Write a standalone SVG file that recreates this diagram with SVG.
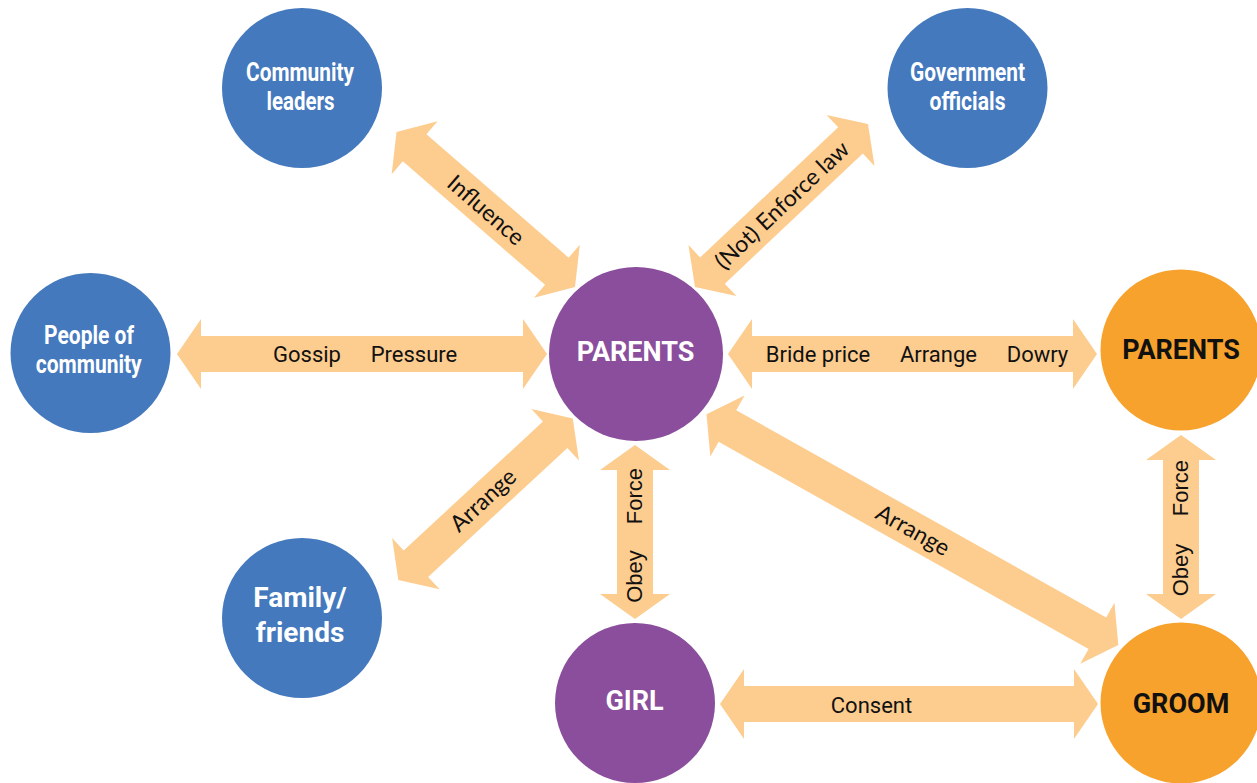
<svg xmlns="http://www.w3.org/2000/svg" width="1257" height="783" viewBox="0 0 1257 783">
<style>
.arr{fill:#FDCC8F}
.blue{fill:#4479BD}
.purple{fill:#8A4E9C}
.orange{fill:#F7A22D}
.nt{font-family:Roboto,"Liberation Sans",sans-serif;font-weight:bold;text-anchor:middle}
.w{fill:#FFFFFF}
.k{fill:#111111}
.lbl{font-family:Roboto,"Liberation Sans",sans-serif;font-size:22px;fill:#111111;text-anchor:middle}
.dg{font-family:Lato,"Open Sans",sans-serif;font-size:23px;fill:#111111;text-anchor:middle}
.vt{font-family:"Liberation Sans",Arial,sans-serif;font-size:22px;fill:#111111;text-anchor:middle}
</style>
<rect width="1257" height="783" fill="#FFFFFF"/>
<g id="connectors">
  <polygon class="arr" transform="translate(177,354)" points="0,0 24,-35 24,-18 346,-18 346,-35 370,0 346,35 346,18 24,18 24,35"/>
  <polygon class="arr" transform="translate(728,354)" points="0,0 24,-35 24,-18 345,-18 345,-35 369,0 345,35 345,18 24,18 24,35"/>
  <polygon class="arr" transform="translate(720,704)" points="0,0 24,-35 24,-18 354,-18 354,-35 378,0 354,35 354,18 24,18 24,35"/>
  <polygon class="arr" transform="translate(635,445) rotate(90)" points="0,0 25,-35 25,-18 149,-18 149,-35 174,0 149,35 149,18 25,18 25,35"/>
  <polygon class="arr" transform="translate(1181,435) rotate(90)" points="0,0 25,-35 25,-18 159,-18 159,-35 184,0 159,35 159,18 25,18 25,35"/>
  <polygon class="arr" transform="translate(396.5,132) rotate(40.97)" points="0,0 24,-35 24,-18 212.4,-18 212.4,-35 236.4,0 212.4,35 212.4,18 24,18 24,35"/>
  <polygon class="arr" transform="translate(695,287) rotate(-43.3)" points="0,0 24,-35 24,-18 213.7,-18 213.7,-35 237.7,0 213.7,35 213.7,18 24,18 24,35"/>
  <polygon class="arr" transform="translate(398.3,580) rotate(-42.8)" points="0,0 24,-35 24,-18 213.8,-18 213.8,-35 237.8,0 213.8,35 213.8,18 24,18 24,35"/>
  <polygon class="arr" transform="translate(706.5,414.3) rotate(29.25)" points="0,0 24,-35 24,-18 448,-18 448,-35 472,0 448,35 448,18 24,18 24,35"/>
  <text class="lbl" x="307" y="362">Gossip</text>
  <text class="lbl" x="414" y="362">Pressure</text>
  <text class="lbl" x="818" y="362">Bride price</text>
  <text class="lbl" x="938.5" y="362">Arrange</text>
  <text class="lbl" x="1037.5" y="362">Dowry</text>
  <text class="lbl" x="871.5" y="712.5">Consent</text>
  <text class="dg" transform="translate(486,210) rotate(40.97)" dy="0.35em">Influence</text>
  <text class="dg" transform="translate(782,205) rotate(-43.3)" dy="0.35em">(Not) Enforce law</text>
  <text class="dg" transform="translate(483,500) rotate(-42.8)" dy="0.35em">Arrange</text>
  <text class="dg" transform="translate(913,530) rotate(29.25)" dy="0.35em">Arrange</text>
  <text class="vt" transform="translate(642,576.5) rotate(-90)">Obey</text>
  <text class="vt" transform="translate(642,496) rotate(-90)">Force</text>
  <text class="vt" transform="translate(1188,570) rotate(-90)">Obey</text>
  <text class="vt" transform="translate(1188,488) rotate(-90)">Force</text>
</g>
<g id="community-leaders">
  <circle class="blue" cx="302" cy="88" r="80"/>
  <text class="nt w" font-size="25" x="300" y="81" textLength="108" lengthAdjust="spacingAndGlyphs">Community</text>
  <text class="nt w" font-size="25" x="300.5" y="109.5" textLength="68" lengthAdjust="spacingAndGlyphs">leaders</text>
</g>
<g id="government-officials">
  <circle class="blue" cx="967.5" cy="88" r="80"/>
  <text class="nt w" font-size="25" x="967.5" y="81" textLength="115" lengthAdjust="spacingAndGlyphs">Government</text>
  <text class="nt w" font-size="25" x="967.5" y="109.5" textLength="76" lengthAdjust="spacingAndGlyphs">officials</text>
</g>
<g id="people-of-community">
  <circle class="blue" cx="90.5" cy="353" r="80"/>
  <text class="nt w" font-size="25" x="89" y="343.5" textLength="90" lengthAdjust="spacingAndGlyphs">People of</text>
  <text class="nt w" font-size="25" x="88.7" y="372.5" textLength="106" lengthAdjust="spacingAndGlyphs">community</text>
</g>
<g id="family-friends">
  <circle class="blue" cx="302" cy="618" r="80"/>
  <text class="nt w" font-size="28" x="300" y="607">Family/</text>
  <text class="nt w" font-size="28" x="300" y="641.5">friends</text>
</g>
<g id="parents-bride">
  <circle class="purple" cx="636" cy="354" r="87"/>
  <text class="nt w" font-size="27" x="635.5" y="360.5">PARENTS</text>
</g>
<g id="girl">
  <circle class="purple" cx="635" cy="703" r="80"/>
  <text class="nt w" font-size="27" x="634.5" y="710">GIRL</text>
</g>
<g id="parents-groom">
  <circle class="orange" cx="1181" cy="350" r="80.5"/>
  <text class="nt k" font-size="27" x="1181" y="358.5">PARENTS</text>
</g>
<g id="groom">
  <circle class="orange" cx="1181" cy="703" r="80.5"/>
  <text class="nt k" font-size="27" x="1181" y="712.5">GROOM</text>
</g>
</svg>
